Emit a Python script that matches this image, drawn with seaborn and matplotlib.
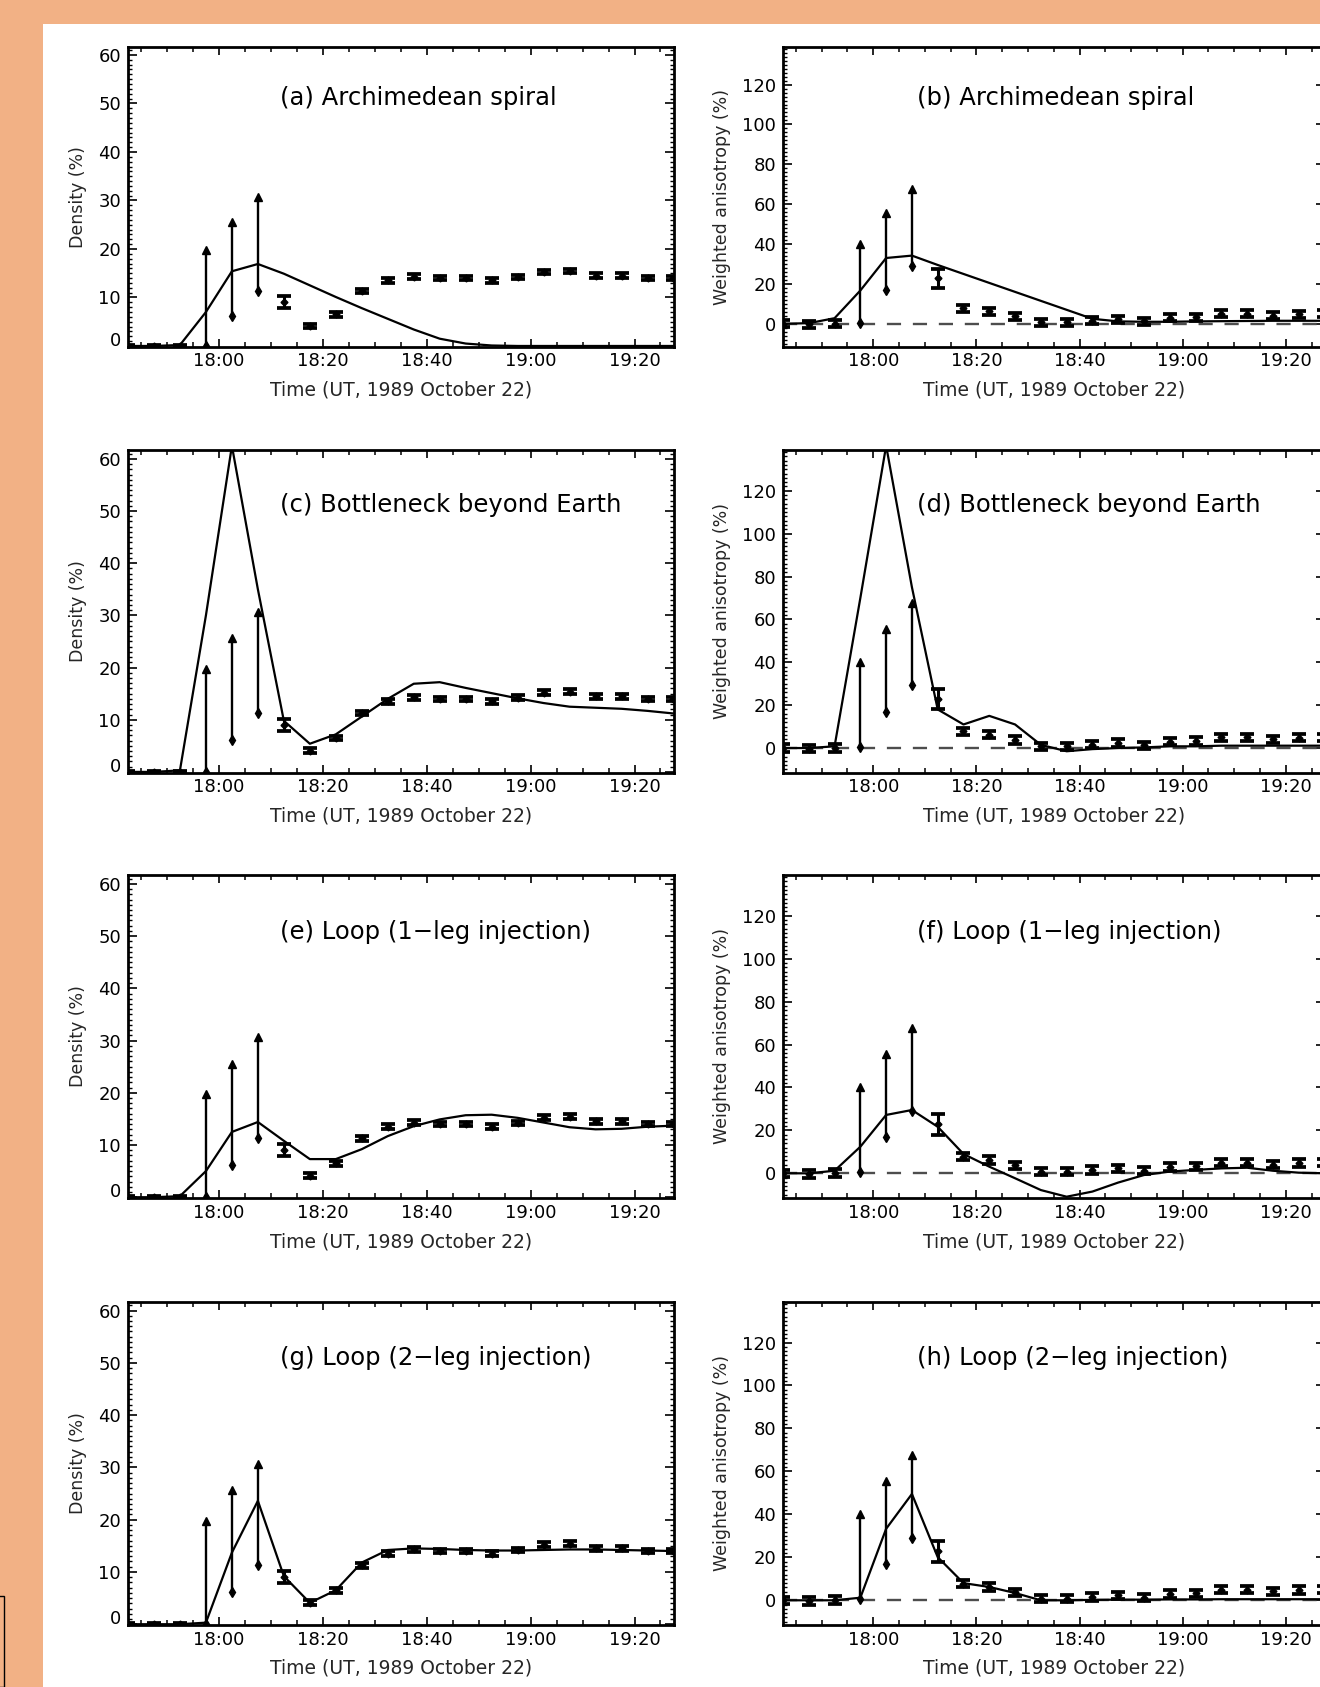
import numpy as np
import pandas as pd
import matplotlib
matplotlib.use("Agg")
import matplotlib.pyplot as plt
import seaborn as sns
from matplotlib.patches import Rectangle
from matplotlib.ticker import MultipleLocator, FuncFormatter

# ---------------- data (time in minutes after 17:00 UT) ----------------
obs_time = [42.5, 47.5, 52.5, 72.5, 77.5, 82.5, 87.5, 92.5, 97.5, 102.5, 107.5,
            112.5, 117.5, 122.5, 127.5, 132.5, 137.5, 142.5, 147.5]
dens_obs = [0.0, 0.0, 0.0, 9.0, 4.1, 6.5, 11.3, 13.5, 14.3, 14.0, 14.0,
            13.5, 14.2, 15.2, 15.4, 14.5, 14.5, 14.0, 14.0]
dens_err = [0.2, 0.2, 0.2, 1.2, 0.45, 0.45, 0.45, 0.45, 0.45, 0.45, 0.45,
            0.45, 0.45, 0.45, 0.45, 0.45, 0.45, 0.45, 0.45]
aniso_obs = [0.0, -0.3, 0.0, 22.8, 7.8, 6.2, 3.7, 0.8, 0.8, 1.6, 2.3,
             1.3, 3.0, 3.3, 5.0, 5.0, 4.1, 4.8, 5.0]
aniso_err = [1.7, 1.7, 1.8, 4.8, 1.7, 1.7, 1.7, 1.7, 1.7, 1.7, 1.7,
             1.7, 1.7, 1.7, 1.7, 1.7, 1.7, 1.7, 1.7]

range_time = [57.5, 62.5, 67.5]
dens_lo = [0.0, 6.2, 11.3]
dens_hi = [19.8, 25.6, 30.7]
aniso_lo = [0.5, 17.0, 29.2]
aniso_hi = [40.0, 55.7, 67.8]

model_time = [42.5, 47.5, 52.5, 57.5, 62.5, 67.5, 72.5, 77.5, 82.5, 87.5, 92.5,
              97.5, 102.5, 107.5, 112.5, 117.5, 122.5, 127.5, 132.5, 137.5, 142.5, 147.5]
model_a = [0, 0, 0.2, 7.0, 15.4, 16.9, 14.9, 12.5, 10.1, 7.8, 5.6,
           3.4, 1.5, 0.5, 0.1, 0, 0, 0, 0, 0, 0, 0]
model_b = [0, 0.3, 2.8, 16.7, 33.0, 34.2, 29.5, 25.0, 20.5, 16.0, 11.5,
           7.0, 2.5, 1.2, 1.0, 1.0, 1.2, 1.3, 1.4, 1.5, 1.5, 1.5]
model_c = [0, 0, 0.3, 30.0, 62.5, 35.0, 9.8, 5.4, 7.2, 10.6, 14.0,
           16.9, 17.2, 16.1, 15.1, 14.1, 13.2, 12.5, 12.3, 12.1, 11.7, 11.2]
model_d = [0, 0, 0.8, 70.0, 141.0, 75.0, 18.0, 11.0, 15.0, 11.0, 1.5,
           -1.5, -0.5, 0.0, 0.3, 0.8, 0.8, 1.1, 1.1, 1.1, 1.1, 1.1]
model_e = [0, 0, 0.2, 5.0, 12.5, 14.4, 10.8, 7.3, 7.3, 9.2, 11.7,
           13.6, 14.9, 15.7, 15.8, 15.2, 14.3, 13.4, 13.0, 13.1, 13.5, 13.7]
model_f = [0, 0, 1.2, 12.4, 27.2, 29.5, 21.7, 9.0, 3.1, -2.3, -7.8,
           -10.9, -8.5, -4.3, -0.8, 0.8, 1.6, 2.3, 2.6, 1.2, 0.3, 0.0]
model_g = [0, 0, 0, 0.3, 13.7, 23.6, 9.2, 4.1, 6.5, 11.8, 14.2,
           14.5, 14.4, 14.2, 14.1, 14.1, 14.2, 14.3, 14.3, 14.2, 14.1, 14.0]
model_h = [0, 0, 0, 1.2, 33.3, 49.5, 20.1, 8.0, 6.2, 3.4, 0.0,
           0.0, 0.2, 0.3, 0.3, 0.4, 0.4, 0.5, 0.5, 0.5, 0.5, 0.5]

titles = ["(a) Archimedean spiral", "(b) Archimedean spiral",
          "(c) Bottleneck beyond Earth", "(d) Bottleneck beyond Earth",
          "(e) Loop (1\u2212leg injection)", "(f) Loop (1\u2212leg injection)",
          "(g) Loop (2\u2212leg injection)", "(h) Loop (2\u2212leg injection)"]
models = [model_a, model_b, model_c, model_d, model_e, model_f, model_g, model_h]

x_major = [60, 80, 100, 120, 140]
xlabel_text = "Time (UT, 1989 October 22)"

# ---------------- style ----------------
sns.set_theme(style="ticks")
plt.rcParams["font.family"] = ["DejaVu Sans"]
plt.rcParams["axes.facecolor"] = "white"

W, H = 1320, 1687
fig = plt.figure(figsize=(W / 100, H / 100), dpi=100)
fig.patch.set_facecolor("#F2B185")
fig.patches.append(Rectangle((42.7 / W, 0), 1.0, 1 - 24 / H, transform=fig.transFigure,
                             facecolor="white", edgecolor="none", zorder=-5))
fig.patches.append(Rectangle((-10 / W, 0), 13.5 / W, (H - 1596) / H, transform=fig.transFigure,
                             facecolor="none", edgecolor="black", lw=1.0, zorder=-4))

rows = [(46.7, 346.7), (450.0, 772.7), (875.0, 1198.0), (1301.7, 1625.0)]
cols = [(128.0, 674.0), (783.0, 1325.0)]
title_offsets = [51, 55, 57, 56]

fmt = FuncFormatter(lambda v, p: f"{17 + int(v) // 60}:{int(v) % 60:02d}")

for r, (top, bot) in enumerate(rows):
    for c, (lft, rgt) in enumerate(cols):
        idx = r * 2 + c
        ax = fig.add_axes([lft / W, 1 - bot / H, (rgt - lft) / W, (bot - top) / H])
        hpx = bot - top
        dfm = pd.DataFrame({"time": model_time, "value": models[idx]})
        if c == 0:
            obs, err, lo, hi = dens_obs, dens_err, dens_lo, dens_hi
        else:
            obs, err, lo, hi = aniso_obs, aniso_err, aniso_lo, aniso_hi
            ax.axhline(0, ls=(0, (6, 5)), color="#4d4d4d", lw=1.7, zorder=1)

        sns.lineplot(data=dfm, x="time", y="value", ax=ax, color="black", lw=1.6,
                     estimator=None, sort=False, zorder=3)
        ax.errorbar(obs_time, obs, yerr=err, fmt="D", ms=3.5, color="black", ecolor="black",
                    elinewidth=2.2, capsize=5, capthick=2.7, zorder=4)
        ax.vlines(range_time, lo, hi, color="black", lw=1.7, zorder=4)
        ax.plot(range_time, hi, ls="none", marker="^", ms=5.5, color="black", zorder=5)
        ax.plot(range_time, lo, ls="none", marker="d", ms=5, color="black", zorder=5)

        ax.set_xlim(42.5, 147.6)
        ax.xaxis.set_major_locator(plt.FixedLocator(x_major))
        ax.xaxis.set_major_formatter(fmt)
        ax.xaxis.set_minor_locator(MultipleLocator(5))
        if c == 0:
            ax.set_ylim(-0.15, 61.7)
            ax.set_yticks([0, 10, 20, 30, 40, 50, 60])
            ax.yaxis.set_minor_locator(MultipleLocator(1))
            ax.set_ylabel("Density (%)", fontsize=12.5)
            ax.yaxis.set_label_coords(-0.075, 0.5)
            tx = 0.279
        else:
            ax.set_ylim(-11.5, 139)
            ax.set_yticks([0, 20, 40, 60, 80, 100, 120])
            ax.yaxis.set_minor_locator(MultipleLocator(2))
            ax.set_ylabel("Weighted anisotropy (%)", fontsize=12.5)
            ax.yaxis.set_label_coords(-0.096, 0.5)
            tx = 0.2475
        ax.set_xlabel(xlabel_text, fontsize=13.5)
        ax.xaxis.set_label_coords(0.5, -34 / hpx)
        ax.xaxis.label.set_va("top")

        ax.tick_params(which="both", direction="in", top=True, right=True,
                       colors="black", labelsize=13)
        ax.tick_params(axis="x", which="major", length=6, width=1.2, pad=4)
        ax.tick_params(axis="x", which="minor", length=3.5, width=1.1)
        ax.tick_params(axis="y", which="major", length=6.5, width=1.2, pad=5)
        ax.tick_params(axis="y", which="minor", length=3, width=1.0)
        for sp in ax.spines.values():
            sp.set_visible(True)
            sp.set_linewidth(2.0)
            sp.set_color("black")
        if c == 0:
            ax.yaxis.get_major_ticks()[0].label1.set_verticalalignment("baseline")

        ax.text(tx, 1 - title_offsets[r] / hpx, titles[idx], transform=ax.transAxes,
                ha="left", va="center", fontsize=17.5, color="black")

fig.savefig("out.png", dpi=100, facecolor=fig.get_facecolor())
